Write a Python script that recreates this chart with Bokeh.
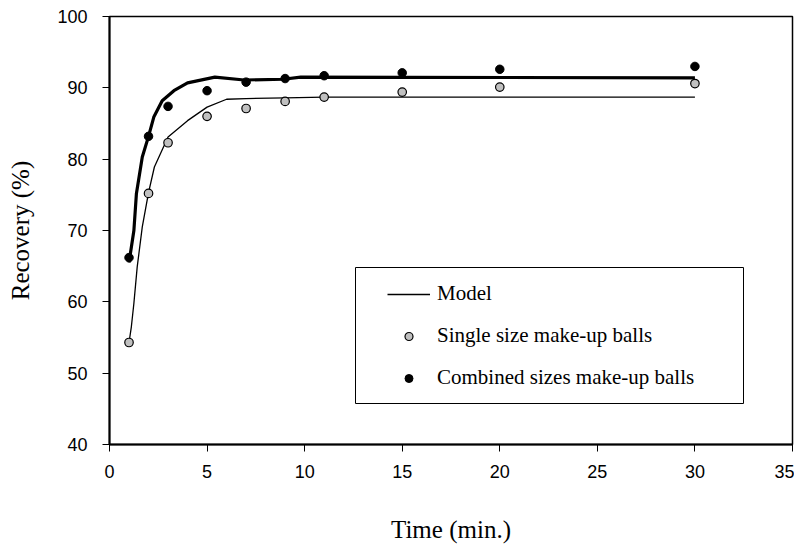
from bokeh.plotting import figure
from bokeh.models import Legend, LegendItem, Range1d, FixedTicker, BoxAnnotation
from bokeh.embed import file_html
from bokeh.resources import INLINE

# Measured data
time_pts = [1, 2, 3, 5, 7, 9, 11, 15, 20, 30]
single_size = [54.3, 75.2, 82.3, 86.0, 87.1, 88.1, 88.7, 89.4, 90.1, 90.6]
combined_sizes = [66.2, 83.2, 87.4, 89.6, 90.8, 91.3, 91.7, 92.1, 92.6, 93.0]

# Model curves
model_single_t = [1, 1.12, 1.25, 1.42, 1.68, 2.0, 2.3, 3.0, 4.0, 5.0, 6.0, 7.0, 9.0, 11.0, 30.0]
model_single_v = [54.3, 56.5, 59.8, 64.9, 70.5, 75.3, 78.9, 83.1, 85.4, 87.3, 88.4, 88.5, 88.6, 88.7, 88.7]
model_comb_t = [1, 1.25, 1.38, 1.68, 2.0, 2.27, 2.7, 3.3, 4.0, 5.4, 6.9, 8.9, 9.8, 30.0]
model_comb_v = [65.5, 70.0, 75.2, 80.3, 83.2, 85.9, 88.2, 89.6, 90.7, 91.5, 91.1, 91.2, 91.5, 91.4]

x_ticks = [0, 5, 10, 15, 20, 25, 30, 35]
y_ticks = [40, 50, 60, 70, 80, 90, 100]

p = figure(width=794, height=548, output_backend="svg", toolbar_location=None,
           x_range=Range1d(0, 35), y_range=Range1d(40, 100))
p.min_border_left = 109
p.min_border_right = 2
p.min_border_top = 16
p.min_border_bottom = 104
p.grid.visible = False
p.outline_line_color = "black"
p.outline_line_width = 1.5
p.background_fill_color = "white"
p.border_fill_color = "white"

for ax in (p.xaxis[0], p.yaxis[0]):
    ax.axis_line_width = 2
    ax.axis_line_color = "black"
    ax.major_tick_in = 0
    ax.major_tick_out = 7
    ax.major_tick_line_width = 1
    ax.minor_tick_line_color = None
    ax.major_label_text_font = "Liberation Sans"
    ax.major_label_text_font_size = "18px"
    ax.major_label_text_color = "black"
    ax.axis_label_text_font = "Liberation Serif"
    ax.axis_label_text_font_size = "25px"
    ax.axis_label_text_font_style = "normal"
    ax.axis_label_text_color = "black"

p.xaxis.ticker = FixedTicker(ticks=x_ticks)
p.yaxis.ticker = FixedTicker(ticks=y_ticks)
p.xaxis.axis_label = "Time (min.)"
p.yaxis.axis_label = "Recovery (%)"
p.xaxis.major_label_standoff = 13
p.yaxis.major_label_standoff = 15
p.xaxis.axis_label_standoff = 35
p.yaxis.axis_label_standoff = 20

thin = p.line(model_single_t, model_single_v, line_color="black", line_width=1.3)
p.line(model_comb_t, model_comb_v, line_color="black", line_width=3.2)
s1 = p.scatter(time_pts, single_size, size=8.5, fill_color="#c0c0c0", line_color="black", line_width=1.2)
s2 = p.scatter(time_pts, combined_sizes, size=8.5, fill_color="black", line_color="black")

box = BoxAnnotation(left=246, right=634, bottom=41, top=177,
                    left_units="screen", right_units="screen",
                    bottom_units="screen", top_units="screen",
                    fill_alpha=0, line_color="black", line_alpha=1, line_width=1)
p.add_layout(box)

legend = Legend(items=[
    LegendItem(label="Model", renderers=[thin]),
    LegendItem(label="Single size make-up balls", renderers=[s1]),
    LegendItem(label="Combined sizes make-up balls", renderers=[s2]),
], location=(262, 38))
legend.border_line_alpha = 0
legend.background_fill_alpha = 0
legend.padding = 16
legend.margin = 0
legend.spacing = 17
legend.glyph_width = 43
legend.glyph_height = 20
legend.label_height = 20
legend.label_standoff = 7
legend.label_text_font = "Liberation Serif"
legend.label_text_font_size = "21px"
legend.label_text_color = "black"
p.add_layout(legend)

open("out.html", "w").write(file_html(p, INLINE))
